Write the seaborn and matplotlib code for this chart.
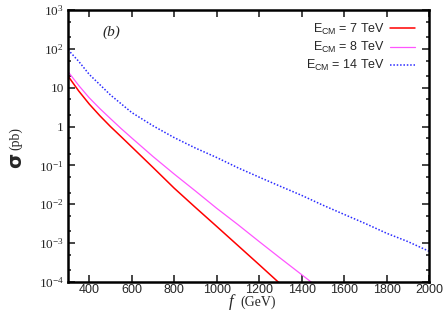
import numpy as np
import pandas as pd
import matplotlib
matplotlib.use("Agg")
import matplotlib.pyplot as plt
import matplotlib.ticker as mticker
import seaborn as sns

# cross sections (pb)
f_7 = [300, 350, 400, 450, 500, 550, 600, 700, 800, 900, 1000, 1100, 1200, 1300]
sig_7 = [20, 8.3, 3.8, 1.9, 1.0, 0.55, 0.30, 0.089, 0.026, 0.0083, 0.0027, 8.7e-4, 2.8e-4, 8.9e-5]

f_8 = [300, 350, 400, 450, 500, 550, 600, 700, 800, 900, 1000, 1100, 1200, 1300, 1400, 1450]
sig_8 = [26, 11.5, 5.5, 2.9, 1.6, 0.89, 0.51, 0.17, 0.060, 0.022, 0.0079, 0.0030, 0.0011, 4.1e-4, 1.55e-4, 9.5e-5]

f_14 = [300, 350, 400, 450, 500, 600, 700, 800, 900, 1000, 1100, 1200, 1300, 1400, 1500, 1600, 1700, 1800, 1900, 2000]
sig_14 = [95, 48, 22, 12, 6.5, 2.3, 1.05, 0.52, 0.28, 0.16, 0.087, 0.050, 0.029, 0.017, 0.0095, 0.0055, 0.0032, 0.0018, 0.0011, 6.2e-4]

labels = [r"E$_{\mathregular{CM}}$ = 7 TeV", r"E$_{\mathregular{CM}}$ = 8 TeV", r"E$_{\mathregular{CM}}$ = 14 TeV"]
xticks = [400, 600, 800, 1000, 1200, 1400, 1600, 1800, 2000]
ytick_labels = [r"$\mathregular{10^{-4}}$", r"$\mathregular{10^{-3}}$", r"$\mathregular{10^{-2}}$",
                r"$\mathregular{10^{-1}}$", "1", "10", r"$\mathregular{10^{2}}$", r"$\mathregular{10^{3}}$"]

sns.set_style("ticks")
plt.rcParams["font.family"] = ["Liberation Sans", "DejaVu Sans"]

fig = plt.figure(figsize=(4.43, 3.10), dpi=100)
ax = fig.add_axes([68 / 443, 1 - 282 / 310, (429 - 68) / 443, (282 - 10) / 310])

sns.lineplot(x=f_7, y=sig_7, ax=ax, color="#ff0000", lw=1.1, ls="-", label=labels[0])
sns.lineplot(x=f_8, y=sig_8, ax=ax, color="#ff55ff", lw=0.9, ls="-", label=labels[1])
sns.lineplot(x=f_14, y=sig_14, ax=ax, color="#2a2aff", lw=1.1, ls=(0, (1, 1.2)), label=labels[2])

ax.set_yscale("log")
ax.set_xlim(300, 2000)
ax.set_ylim(1e-4, 1e3)

ax.set_xticks(xticks)
ax.set_xticklabels([str(t) for t in xticks], fontsize=9)
ax.set_yticks([10.0 ** k for k in range(-4, 4)])
ax.set_yticklabels(ytick_labels, fontsize=9.5, family=["Liberation Serif", "DejaVu Serif"])
ax.yaxis.set_minor_locator(mticker.LogLocator(base=10, subs=(2, 5), numticks=20))
ax.yaxis.set_minor_formatter(mticker.NullFormatter())

ax.tick_params(which="both", direction="in", top=True, right=True, width=1.2)
ax.tick_params(which="major", length=5, pad=3)
ax.tick_params(axis="x", which="major", pad=1.5)
ax.tick_params(which="minor", length=2.5)
for sp in ax.spines.values():
    sp.set_linewidth(1.8)
    sp.set_color("black")

ax.set_xlabel("")
ax.set_ylabel("")

leg = ax.legend(loc="upper right", frameon=False, markerfirst=False, fontsize=9,
                handlelength=2.0, handletextpad=0.4, labelspacing=0.25,
                borderaxespad=0.0, bbox_to_anchor=(0.975, 0.975))

ax.text(0.12, 0.92, "(b)", transform=ax.transAxes, fontsize=11, style="italic",
        family=["Liberation Serif", "DejaVu Serif"], ha="center", va="center")

# axis titles
fig.text(231 / 443, 1 - 302 / 310, "f", fontsize=12, style="italic",
         family=["Liberation Serif", "DejaVu Serif"], ha="center", va="center")
fig.text(258 / 443, 1 - 302 / 310, "(GeV)", fontsize=10,
         family=["Liberation Serif", "DejaVu Serif"], ha="center", va="center")
fig.text(16 / 443, 1 - 160 / 310, "σ", fontsize=14, fontweight="bold", rotation=90,
         family=["DejaVu Sans"], ha="center", va="center")
fig.text(16 / 443, 1 - 139 / 310, "(pb)", fontsize=10, rotation=90,
         family=["Liberation Serif", "DejaVu Serif"], ha="center", va="center")

fig.savefig("out.png", dpi=100)
